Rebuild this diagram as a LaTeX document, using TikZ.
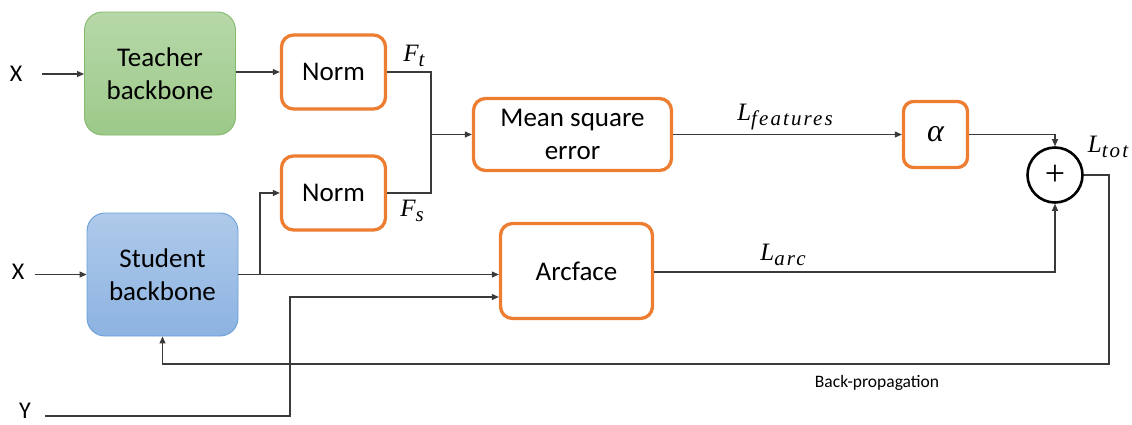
\documentclass[tikz,border=0pt]{standalone}
\usepackage{fontspec}
\setmainfont{Carlito}
\newfontfamily\lblfont{Liberation Serif}
\newfontfamily\lblsubfont{Liberation Serif}[LetterSpace=10]
\usetikzlibrary{arrows.meta,calc}
\definecolor{orng}{HTML}{ED7D31}
\definecolor{wire}{HTML}{3A3A3A}
\definecolor{grnTop}{HTML}{B7D8A9}
\definecolor{grnBot}{HTML}{9CC989}
\definecolor{grnEdge}{HTML}{84BA6C}
\definecolor{bluTop}{HTML}{AFCAEA}
\definecolor{bluBot}{HTML}{8DB3E2}
\definecolor{bluEdge}{HTML}{6A9FD8}
% italic symbol with a subscript, set in text fonts
\newcommand{\symsub}[2]{{\lblfont\itshape\fontsize{25}{27}\selectfont #1\raisebox{-0.22em}{\lblsubfont\itshape\fontsize{21}{22}\selectfont #2}}}
\tikzset{
  txt/.style={font=\fontsize{27}{33}\selectfont, align=center},
  backbone/.style={txt, rounded corners=18pt, line width=0.9pt,
    minimum width=151pt, minimum height=123pt, inner sep=0pt},
  opbox/.style={txt, draw=orng, line width=3.3pt, rounded corners=12pt, fill=white, inner sep=0pt},
  wireline/.style={draw=wire, line width=1.1pt},
  arr/.style={wireline, -{Triangle[length=7pt,width=6pt]}},
  inlabel/.style={font=\fontsize{24}{28}\selectfont, inner sep=0pt},
  symlabel/.style={inner sep=0pt},
}
\begin{document}
\begin{tikzpicture}[x=1pt,y=-1pt]
\useasboundingbox (0,0) rectangle (1132,424);

% backbones
\node[backbone, draw=grnEdge, top color=grnTop, bottom color=grnBot] (teacher) at (160,73.5) {Teacher\\backbone};
\node[backbone, draw=bluEdge, top color=bluTop, bottom color=bluBot] (student) at (162.5,274.5) {Student\\backbone};

% processing blocks
\node[opbox, minimum width=104pt, minimum height=74pt] (normt) at (333.5,72) {Norm};
\node[opbox, minimum width=104pt, minimum height=74pt] (norms) at (333.5,193) {Norm};
\node[opbox, minimum width=198pt, minimum height=72pt] (mse) at (572.5,134.5) {Mean square\\error};
\node[opbox, minimum width=152pt, minimum height=95pt] (arc) at (576.5,271) {Arcface};
\node[opbox, minimum width=64pt, minimum height=66pt, rounded corners=10pt,
      font=\lblfont\itshape\fontsize{32}{34}\selectfont] (alpha) at (935.5,134.5) {α};
\node[circle, draw=black, line width=2.6pt, minimum size=55pt, inner sep=0pt,
      font=\lblfont\fontsize{36}{38}\selectfont] (sum) at (1055,175) {+};

% inputs
\node[inlabel] (xt) at (16,74) {X};
\node[inlabel] (xs) at (18,272) {X};
\node[inlabel] (yl) at (25,411) {Y};
\coordinate (xtin) at (42,74);
\coordinate (xsin) at (35,274.5);
\coordinate (yin) at (45,416);

% branch points
\coordinate (join) at (431,134.5);
\coordinate (split) at (260,274.5);
\coordinate (yturn) at (290,297);
\coordinate (bp) at (1109,364);

% teacher path
\draw[arr] (xtin) -- (teacher.west |- xtin);
\draw[arr] (teacher.east |- normt) -- (normt.west);
\draw[wireline] (normt.east) -| (join);
\draw[wireline] (norms.east) -| (join);
\draw[arr] (join) -- (mse.west);

% student path
\draw[arr] (xsin) -- (student.west);
\draw[arr] (student.east) -- (student.east -| arc.west);
\draw[arr] (split) |- (norms.west);
\draw[arr] (yin) -| (yturn) -- (yturn -| arc.west);

% losses
\draw[arr] (mse.east) -- (alpha.west);
\draw[arr] (alpha.east) -| (sum.north);
\draw[arr] (arc.east |- 0,272) -| (sum.south);
\draw[arr] (sum.east) -| (bp) -| (student.south);

% labels
\node[symlabel] (ft) at (414,56) {\symsub{F}{t}};
\node[symlabel] (fs) at (412,211) {\symsub{F}{s}};
\node[symlabel] (lfeat) at (785,117) {\symsub{L}{features}};
\node[symlabel] (larc) at (783,255) {\symsub{L}{arc}};
\node[symlabel] (ltot) at (1108,147) {\symsub{L}{tot}};
\node[font=\fontsize{17.5}{20}\selectfont] (bplabel) at (877,383) {Back-propagation};
\end{tikzpicture}
\end{document}
